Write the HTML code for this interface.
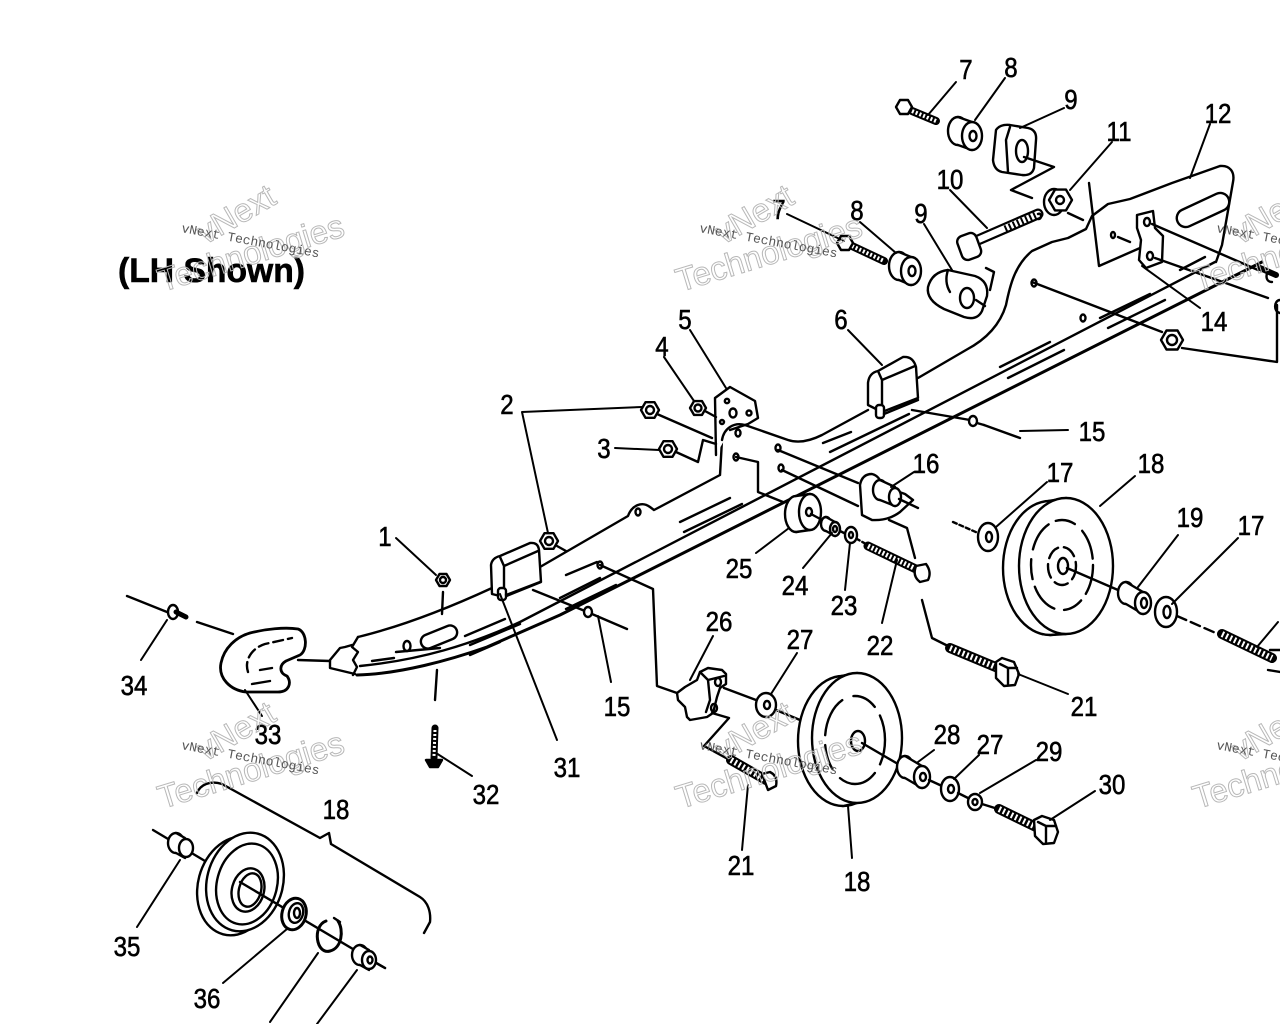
<!DOCTYPE html>
<html><head><meta charset="utf-8"><style>
html,body{margin:0;padding:0;background:#fff;}
svg{display:block;}
.n{font-family:"Liberation Sans",Arial,sans-serif;font-size:28px;fill:#000;stroke:#000;stroke-width:0.6;text-anchor:middle;}
.wm1{font-family:"Liberation Mono","Liberation Serif",monospace;font-size:13px;fill:#555;}
.wm2{font-family:"Liberation Sans",Arial,sans-serif;font-size:33px;fill:none;stroke:#b8b8b8;stroke-width:1;}
</style></head><body>
<svg width="1280" height="1024" viewBox="0 0 1280 1024" xmlns="http://www.w3.org/2000/svg">
<rect width="1280" height="1024" fill="#fff"/>
<g fill="none" stroke="#000" stroke-width="2.4" stroke-linecap="round" stroke-linejoin="round">

<!-- ===== MAIN RAIL ===== -->
<path d="M358,637 C395,628 440,612 492,588"/>
<path d="M540,567 L628,516 C632,505 642,501 650,507 L654,510 L720,475 L722,440 C724,428 734,422 745,425 L788,440 C800,444 812,440 822,435 L868,410"/>
<path d="M918,378 L966,350 C985,340 1000,325 1006,305 C1010,285 1015,265 1032,251 L1052,242 L1068,238 L1086,229 L1092,216 L1108,204 L1130,199 L1172,183 L1220,166 C1230,165 1235,172 1233,182 L1222,245 L1216,262"/>
<path d="M360,666 C420,660 470,645 520,622 L1215,262"/>
<path d="M357,675 C400,674 450,660 487,647 L560,615 L1262,262" stroke-width="3"/>
<path d="M358,637 L352,647 L358,652 L353,660 L357,667 L353,675"/>
<path d="M352,645 L345,647 L340,648 L330,660 L330,668 L355,674"/>
<rect x="420" y="630" width="38" height="14" rx="7" transform="rotate(-22 439 637)"/>
<ellipse cx="407" cy="646" rx="3.5" ry="5"/>
<path d="M396,652 L440,648"/>
<path d="M372,661 L394,658 M465,636 L505,619 M470,645 L520,624 M560,598 L600,578 M566,609 L616,585 M680,522 L730,498 M684,532 L742,504 M823,443 L851,432 M830,452 L909,414 M1000,367 L1050,342 M1008,378 L1064,350 M1100,318 L1150,294 M1108,328 L1165,300 M1180,270 L1205,257"/>
<path d="M566,575 L597,562 M470,655 L500,642"/>
<ellipse cx="638" cy="512" rx="2.5" ry="3.5"/>
<ellipse cx="738" cy="433" rx="2.5" ry="3.5"/>
<ellipse cx="736" cy="457" rx="2.5" ry="3.5"/>
<ellipse cx="778" cy="448" rx="2.5" ry="3.5"/>
<ellipse cx="781" cy="468" rx="2.5" ry="3.5"/>
<ellipse cx="600" cy="565" rx="2.5" ry="3.5"/>
<ellipse cx="1083" cy="318" rx="2.5" ry="3.5"/>
<ellipse cx="1034" cy="283" rx="2.5" ry="3.5"/>
<ellipse cx="1113" cy="235" rx="2" ry="3"/>

<rect x="1175" y="201" width="56" height="18" rx="9" transform="rotate(-25 1203 210)"/>
<path d="M1089,183 L1099,266 L1140,248"/>
<path d="M1118,237 L1130,242"/>
<path d="M1137,215 L1153,211 L1155,228 L1163,236 L1162,262 L1146,268 L1139,260 L1141,240 L1137,228 Z" fill="#fff"/>
<ellipse cx="1147" cy="222" rx="3" ry="4"/>
<ellipse cx="1150" cy="256" rx="3" ry="4"/>

<!-- block 31 -->
<path d="M492,594 L491,565 Q492,558 500,556 L530,543 Q538,542 539,550 L541,582 L504,597 Z" fill="#fff"/>
<path d="M500,557 L504,566 L504,596 M504,566 L538,551"/>
<rect x="498" y="588" width="8" height="12" rx="3" fill="#fff"/>
<path d="M506,595 L540,582"/>
<!-- block 6 -->
<path d="M868,405 L868,383 Q869,373 878,371 L903,357 Q913,356 916,367 L918,398 L882,412 Z" fill="#fff"/>
<path d="M878,371 L882,380 L882,410 M882,380 L915,366"/>
<rect x="876" y="405" width="8" height="13" rx="3" fill="#fff"/>
<path d="M884,414 L918,400"/>
<!-- part 5 -->
<path d="M716,455 L715,398 L730,387 L755,401 L758,418 L748,424 L730,430" fill="#fff"/>
<circle cx="727" cy="401" r="2.2"/><ellipse cx="733" cy="413" rx="3.5" ry="4.5"/><circle cx="749" cy="413" r="2.5"/><circle cx="722" cy="422" r="2"/>
<path d="M722,440 C724,428 734,422 745,425"/>

<!-- ===== UPPER PARTS ===== -->
<path d="M912,111 L936,121" stroke-width="8"/>
<path d="M912,111 L936,121" stroke="#fff" stroke-width="4" stroke-dasharray="2 2" stroke-linecap="butt"/>
<polygon points="912,107 908,114 900,114 896,107 900,100 908,100" fill="#fff"/>
<ellipse cx="958" cy="131" rx="10" ry="14" fill="#fff"/>
<polygon points="958,117 972,122 972,150 958,145" fill="#fff" stroke="none"/>
<path d="M958,117 L972,122 M958,145 L972,150"/>
<ellipse cx="972" cy="136" rx="10" ry="14" fill="#fff"/>
<ellipse cx="973" cy="136" rx="3.5" ry="5"/>
<path d="M996,130 Q1000,124 1010,125 L1028,128 Q1037,130 1036,140 L1034,168 Q1032,176 1022,175 L1002,172 Q994,170 993,160 Z" fill="#fff"/>
<path d="M1010,127 L1006,140 L1008,172"/>
<ellipse cx="1022" cy="151" rx="6" ry="11"/>
<path d="M1024,157 L1054,167 L1011,190 L1032,198"/>
<ellipse cx="1054" cy="202" rx="10" ry="13" fill="#fff"/>
<polygon points="1072,200 1066,210.4 1055,210.4 1049,200 1055,189.6 1066,189.6" fill="#fff"/>
<circle cx="1060" cy="200" r="4"/>
<path d="M1068,213 L1083,220"/>
<!-- bolt 10 -->
<path d="M978,240 L1038,214" stroke-width="11"/>
<path d="M978,240 L1038,214" stroke="#fff" stroke-width="6.5"/>
<path d="M1005,229 L1036,215" stroke-width="7" stroke-dasharray="2 2.5" stroke-linecap="butt"/>
<path d="M1038,214 C1042,212 1042,220 1038,219"/>
<rect x="959" y="234" width="20" height="25" rx="6" transform="rotate(-20 969 246)" fill="#fff"/>
<!-- bolt 7 lower -->
<path d="M852,246 L884,261" stroke-width="8"/>
<path d="M852,246 L884,261" stroke="#fff" stroke-width="4" stroke-dasharray="2 2" stroke-linecap="butt"/>
<polygon points="853,243 849,250 841,250 837,243 841,236 849,236" fill="#fff"/>
<ellipse cx="899" cy="266" rx="10" ry="14" fill="#fff"/>
<polygon points="899,252 911,257 911,285 899,280" fill="#fff" stroke="none"/>
<path d="M899,252 L911,257 M899,280 L911,285"/>
<ellipse cx="911" cy="271" rx="10" ry="14" fill="#fff"/>
<ellipse cx="912" cy="271" rx="3.5" ry="5"/>
<!-- block 9 lower -->
<path d="M928,287 Q932,272 948,270 L975,276 Q989,281 987,296 L982,311 Q977,321 964,317 L944,309 Q926,300 928,287 Z" fill="#fff"/>
<path d="M948,270 Q944,282 950,292"/>
<ellipse cx="967" cy="298" rx="7" ry="10"/>
<path d="M976,300 L985,306"/>
<path d="M986,268 L994,272 L990,290"/>

<!-- rear right -->
<path d="M1032,282 L1162,332"/>
<polygon points="1183,340 1177.5,349.5 1166.5,349.5 1161,340 1166.5,330.5 1177.5,330.5" fill="#fff"/>
<circle cx="1172" cy="340" r="5"/>
<path d="M1182,348 L1277,362 L1277,305"/>
<path d="M1152,224 L1258,270"/>
<path d="M1155,258 L1268,298"/>
<path d="M1260,268 L1276,275" stroke-width="6"/>
<path d="M1270,272 C1266,270 1264,282 1272,282"/>
<path d="M1280,300 C1274,300 1273,312 1280,313"/>

<!-- ===== NUTS ===== -->
<polygon points="659,410 654.5,417.8 645.5,417.8 641,410 645.5,402.2 654.5,402.2" fill="#fff"/><circle cx="650" cy="410" r="4"/>
<polygon points="706,408 702,414.9 694,414.9 690,408 694,401.1 702,401.1" fill="#fff"/><circle cx="698" cy="408" r="3.5"/>
<polygon points="677,449 672.5,456.8 663.5,456.8 659,449 663.5,441.2 672.5,441.2" fill="#fff"/><circle cx="668" cy="449" r="4"/>
<polygon points="558,541 553.5,548.8 544.5,548.8 540,541 544.5,533.2 553.5,533.2" fill="#fff"/><circle cx="549" cy="541" r="4"/>
<polygon points="450,580 446.5,586 439.5,586 436,580 439.5,574 446.5,574" fill="#fff"/><circle cx="443" cy="580" r="3"/>
<path d="M657,414 L712,438"/>
<path d="M676,452 L698,462 L703,440 L716,444"/>
<path d="M705,411 L716,417"/>
<path d="M557,546 L566,551"/>

<path d="M912,410 L970,420"/>
<ellipse cx="973" cy="421" rx="4" ry="5" fill="#fff"/>
<path d="M977,423 L984,425"/>
<path d="M984,425 L1020,438"/>

<!-- part 16 -->
<path d="M778,450 L858,483 M782,470 L858,506"/>
<path d="M862,515 L860,485 Q862,474 872,474 Q880,476 882,486 L905,494 L913,500 L900,512 Q888,521 872,520 Z" fill="#fff"/>
<ellipse cx="880" cy="490" rx="7" ry="10" fill="#fff"/>
<polygon points="880,480 895,487 895,506 880,500" fill="#fff" stroke="none"/>
<path d="M880,480 L895,487 M880,500 L895,506"/>
<ellipse cx="895" cy="497" rx="6" ry="9" fill="#fff"/>
<path d="M899,499 L918,508"/>
<path d="M889,520 L907,528 L915,558"/>

<path d="M736,457 L758,462 L758,492 L783,502"/>
<ellipse cx="796" cy="514" rx="11" ry="18" fill="#fff"/>
<polygon points="796,496 810,494 810,530 796,532" fill="#fff" stroke="none"/>
<path d="M796,496 L810,494 M796,532 L810,530"/>
<ellipse cx="810" cy="512" rx="11" ry="18" fill="#fff"/>
<ellipse cx="809" cy="512" rx="3" ry="4"/>
<path d="M811,514 L824,521"/>
<ellipse cx="826" cy="524" rx="5" ry="7" fill="#fff"/>
<polygon points="826,517 835,522 835,536 826,531" fill="#fff" stroke="none"/>
<path d="M826,517 L835,522 M826,531 L835,536"/>
<ellipse cx="835" cy="529" rx="5" ry="7" fill="#fff"/>
<ellipse cx="835" cy="529" rx="2" ry="3"/>
<path d="M840,531 L846,534"/>
<ellipse cx="851" cy="535" rx="6" ry="8" fill="#fff"/><ellipse cx="851" cy="535" rx="2" ry="3"/>
<path d="M857,539 L866,544" stroke-dasharray="3 3"/>
<path d="M868,546 L918,570" stroke-width="9"/>
<path d="M868,546 L918,570" stroke="#fff" stroke-width="5" stroke-dasharray="2 2" stroke-linecap="butt"/>
<path d="M916,566 Q912,576 920,582 L928,580 Q932,572 926,564 Z" fill="#fff"/>
<path d="M922,600 L932,638 L950,647"/>
<path d="M950,648 L998,668" stroke-width="10"/>
<path d="M950,648 L998,668" stroke="#fff" stroke-width="6" stroke-dasharray="2 2.5" stroke-linecap="butt"/>
<path d="M996,662 L1002,658 L1014,662 L1019,674 L1015,685 L1004,686 L996,678 Z" fill="#fff"/>
<path d="M1000,664 L1008,668 L1008,684 M1008,668 L1017,668"/>

<path d="M953,522 L978,533" stroke-dasharray="4 3"/>
<ellipse cx="988" cy="537" rx="10" ry="14" fill="#fff"/><ellipse cx="989" cy="537" rx="3" ry="5"/>
<ellipse cx="1050" cy="568" rx="47" ry="67" fill="#fff"/>
<polygon points="1050,501 1066,498 1066,634 1050,635" fill="#fff" stroke="none"/>
<path d="M1048,501 L1066,498 M1050,635 L1066,634"/>
<ellipse cx="1066" cy="566" rx="47" ry="68" fill="#fff"/>
<ellipse cx="1062" cy="565" rx="31" ry="45" stroke-dasharray="30 8 20 10"/>
<ellipse cx="1062" cy="566" rx="14" ry="19" stroke-dasharray="14 6"/>
<ellipse cx="1063" cy="566" rx="5" ry="8"/>
<path d="M1067,568 L1118,590"/>
<ellipse cx="1126" cy="593" rx="8" ry="11" fill="#fff"/>
<polygon points="1126,582 1143,592 1143,614 1126,604" fill="#fff" stroke="none"/>
<path d="M1126,582 L1143,592 M1126,604 L1143,614"/>
<ellipse cx="1143" cy="603" rx="8" ry="11" fill="#fff"/>
<ellipse cx="1144" cy="603" rx="3" ry="5"/>
<ellipse cx="1166" cy="612" rx="11" ry="15" fill="#fff"/><ellipse cx="1167" cy="612" rx="3.5" ry="6"/>
<path d="M1177,616 L1218,634" stroke-dasharray="10 5"/>
<path d="M1222,634 L1272,658" stroke-width="10"/>
<path d="M1222,634 L1272,658" stroke="#fff" stroke-width="6" stroke-dasharray="2 2.5" stroke-linecap="butt"/>
<path d="M1270,650 L1280,650 M1268,670 L1280,672"/>

<!-- ===== PART 26 ===== -->
<path d="M600,565 L653,589 L657,686 L677,693"/>
<path d="M677,693 L685,687 L697,680 L700,672 L708,668 L722,670 L726,674 L726,684 L720,688 L717,697 L713,713 L707,717 L690,720 L687,717 L685,707 L678,700 Z" fill="#fff"/>
<path d="M700,672 L708,680 L710,700 L706,712 M708,680 L724,676"/>
<ellipse cx="718" cy="682" rx="3" ry="4"/><ellipse cx="714" cy="708" rx="3" ry="4"/>
<path d="M724,688 L756,700"/>
<ellipse cx="766" cy="705" rx="10" ry="12" fill="#fff"/><ellipse cx="767" cy="705" rx="3" ry="4"/>
<path d="M776,710 L800,720"/>
<ellipse cx="843" cy="741" rx="45" ry="65" fill="#fff"/>
<polygon points="843,676 857,673 857,803 843,806" fill="#fff" stroke="none"/>
<path d="M841,676 L857,673 M843,806 L857,803"/>
<ellipse cx="857" cy="738" rx="45" ry="65" fill="#fff"/>
<ellipse cx="855" cy="740" rx="30" ry="44" stroke-dasharray="25 10 40 12"/>
<ellipse cx="858" cy="741" rx="7" ry="10"/>
<path d="M862,743 L898,764"/>
<ellipse cx="905" cy="767" rx="8" ry="11" fill="#fff"/>
<polygon points="905,756 922,766 922,788 905,778" fill="#fff" stroke="none"/>
<path d="M905,756 L922,766 M905,778 L922,788"/>
<ellipse cx="922" cy="777" rx="8" ry="11" fill="#fff"/>
<ellipse cx="923" cy="777" rx="3" ry="4"/>
<path d="M929,780 L942,786"/>
<ellipse cx="950" cy="789" rx="9" ry="12" fill="#fff"/><ellipse cx="951" cy="789" rx="3" ry="4"/>
<path d="M958,793 L968,798"/>
<ellipse cx="975" cy="802" rx="7" ry="8" fill="#fff"/><ellipse cx="975" cy="802" rx="2.5" ry="3"/>
<path d="M982,804 L998,809"/>
<path d="M999,809 L1036,827" stroke-width="10"/>
<path d="M999,809 L1036,827" stroke="#fff" stroke-width="6" stroke-dasharray="2 2.5" stroke-linecap="butt"/>
<path d="M1034,820 L1042,816 L1054,820 L1058,832 L1054,843 L1043,844 L1035,836 Z" fill="#fff"/>
<path d="M1038,822 L1046,826 L1046,842 M1046,826 L1056,826"/>
<path d="M712,713 L729,718 L704,746 L726,758"/>
<path d="M731,760 L766,780" stroke-width="10"/>
<path d="M731,760 L766,780" stroke="#fff" stroke-width="6" stroke-dasharray="2 2.5" stroke-linecap="butt"/>
<path d="M762,774 L770,772 Q778,776 776,786 L768,790 Z" fill="#fff"/>

<!-- ===== LEFT PARTS ===== -->
<path d="M443,592 L442,614"/>
<path d="M437,670 L435,700"/>
<path d="M435,728 L434,758" stroke-width="7"/>
<path d="M435,730 L434,756" stroke="#fff" stroke-width="3" stroke-dasharray="2 2" stroke-linecap="butt"/>
<path d="M426,760 L442,760 L438,767 L430,767 Z" fill="#000"/>
<path d="M533,590 L585,611"/>
<ellipse cx="588" cy="612" rx="4" ry="5" fill="#fff"/>
<path d="M592,614 L627,629"/>
<!-- part 33 C shape -->
<path d="M250,633 C265,629 285,627 298,629 C307,632 308,650 300,655 L286,661 C279,665 279,673 287,676 C292,683 289,692 278,692 L246,692 C230,690 218,678 221,663 C224,648 236,637 250,633 Z" fill="#fff" stroke-width="2.8"/>
<path d="M248,672 C244,660 252,648 265,644 L292,638" stroke-dasharray="10 5"/>
<path d="M252,684 L270,681 M260,670 L272,668"/>
<path d="M298,660 L330,661"/>
<path d="M197,622 L233,634"/>
<path d="M127,596 L167,612"/>
<ellipse cx="173" cy="612" rx="5" ry="7" fill="#fff"/>
<path d="M176,612 L186,617" stroke-width="5"/>

<!-- ===== BOTTOM LEFT ===== -->
<path d="M197,793 C200,785 210,780 222,784 L320,838 L329,833 L331,844 L420,897 C428,902 431,912 430,922 L424,933"/>
<path d="M153,830 L205,861"/>
<ellipse cx="176" cy="843" rx="8" ry="10" fill="#fff"/>
<polygon points="176,833 185,838 185,858 176,853" fill="#fff" stroke="none"/>
<path d="M176,833 L185,838 M176,853 L185,858"/>
<ellipse cx="186" cy="848" rx="7" ry="9" fill="#fff"/>
<ellipse cx="236" cy="886" rx="38" ry="50" transform="rotate(15 236 886)" fill="#fff"/>
<ellipse cx="245" cy="882" rx="38" ry="50" transform="rotate(15 245 882)" fill="#fff"/>
<ellipse cx="247" cy="884" rx="30" ry="41" transform="rotate(15 247 884)"/>
<ellipse cx="248" cy="890" rx="16" ry="22" transform="rotate(15 248 890)"/>
<ellipse cx="250" cy="890" rx="11" ry="17" transform="rotate(15 250 890)"/>
<path d="M240,882 L385,968"/>
<ellipse cx="294" cy="914" rx="12" ry="16" transform="rotate(15 294 914)" fill="#fff" stroke-width="3"/>
<ellipse cx="296" cy="913" rx="7" ry="10" transform="rotate(15 296 913)"/>
<ellipse cx="297" cy="913" rx="3" ry="5"/>
<path d="M326,921 C312,926 316,955 330,951 C342,948 344,930 338,921" stroke-width="3"/>
<path d="M334,918 L340,922"/>
<ellipse cx="360" cy="955" rx="8" ry="10" fill="#fff"/>
<polygon points="360,945 369,950 369,970 360,965" fill="#fff" stroke="none"/>
<path d="M360,945 L369,950 M360,965 L369,970"/>
<ellipse cx="369" cy="960" rx="7" ry="9" fill="#fff"/>
<ellipse cx="370" cy="960" rx="2.5" ry="3.5"/>
<path d="M376,963 L385,968"/>

<!-- ===== LEADERS ===== -->
<g stroke-width="2">
<path d="M956,82 L928,115"/>
<path d="M1005,78 L975,120"/>
<path d="M1064,108 L1020,128"/>
<path d="M1112,142 L1070,190"/>
<path d="M1210,124 L1190,178"/>
<path d="M950,190 L987,228"/>
<path d="M787,214 L844,241"/>
<path d="M860,222 L896,253"/>
<path d="M924,224 L952,270"/>
<path d="M1142,266 L1200,308"/>
<path d="M690,330 L726,388"/>
<path d="M848,330 L882,365"/>
<path d="M664,357 L694,401"/>
<path d="M642,407 L522,412 L548,533"/>
<path d="M615,448 L659,450"/>
<path d="M1020,431 L1068,430"/>
<path d="M914,472 L891,487"/>
<path d="M1047,482 L996,527"/>
<path d="M1135,476 L1100,506"/>
<path d="M1178,535 L1138,587"/>
<path d="M1238,538 L1172,604"/>
<path d="M1278,622 L1257,647"/>
<path d="M396,538 L436,575"/>
<path d="M756,553 L789,528"/>
<path d="M803,568 L832,533"/>
<path d="M845,590 L850,543"/>
<path d="M882,623 L897,560"/>
<path d="M713,636 L690,680"/>
<path d="M797,653 L771,694"/>
<path d="M141,660 L167,620"/>
<path d="M245,690 L262,716"/>
<path d="M598,616 L611,682"/>
<path d="M1018,674 L1068,694"/>
<path d="M500,594 L557,740"/>
<path d="M934,750 L918,762"/>
<path d="M979,755 L954,779"/>
<path d="M1036,760 L980,793"/>
<path d="M1095,791 L1050,820"/>
<path d="M436,753 L472,776"/>
<path d="M748,785 L742,850"/>
<path d="M848,806 L852,858"/>
<path d="M137,927 L180,860"/>
<path d="M223,983 L287,929"/>
<path d="M270,1022 L318,953"/>
<path d="M317,1024 L357,970"/>
</g>
</g>

<!-- ===== LABELS ===== -->
<text x="118" y="282" textLength="187" lengthAdjust="spacingAndGlyphs" style="font-family:'Liberation Sans',Arial,sans-serif;font-weight:bold;font-size:34px;fill:#000;stroke:#000;stroke-width:0.6;">(LH Shown)</text>
<g>
<text class="n" transform="translate(966,79) scale(.86,1)">7</text>
<text class="n" transform="translate(1011,77) scale(.86,1)">8</text>
<text class="n" transform="translate(1071,109) scale(.86,1)">9</text>
<text class="n" transform="translate(1119,141) scale(.86,1)">11</text>
<text class="n" transform="translate(1218,123) scale(.86,1)">12</text>
<text class="n" transform="translate(950,189) scale(.86,1)">10</text>
<text class="n" transform="translate(779,219) scale(.86,1)">7</text>
<text class="n" transform="translate(857,220) scale(.86,1)">8</text>
<text class="n" transform="translate(921,223) scale(.86,1)">9</text>
<text class="n" transform="translate(1214,331) scale(.86,1)">14</text>
<text class="n" transform="translate(685,329) scale(.86,1)">5</text>
<text class="n" transform="translate(841,329) scale(.86,1)">6</text>
<text class="n" transform="translate(662,356) scale(.86,1)">4</text>
<text class="n" transform="translate(507,414) scale(.86,1)">2</text>
<text class="n" transform="translate(604,458) scale(.86,1)">3</text>
<text class="n" transform="translate(1092,441) scale(.86,1)">15</text>
<text class="n" transform="translate(926,473) scale(.86,1)">16</text>
<text class="n" transform="translate(1060,482) scale(.86,1)">17</text>
<text class="n" transform="translate(1151,473) scale(.86,1)">18</text>
<text class="n" transform="translate(1190,527) scale(.86,1)">19</text>
<text class="n" transform="translate(1251,535) scale(.86,1)">17</text>
<text class="n" transform="translate(385,546) scale(.86,1)">1</text>
<text class="n" transform="translate(739,578) scale(.86,1)">25</text>
<text class="n" transform="translate(795,595) scale(.86,1)">24</text>
<text class="n" transform="translate(844,615) scale(.86,1)">23</text>
<text class="n" transform="translate(880,655) scale(.86,1)">22</text>
<text class="n" transform="translate(719,631) scale(.86,1)">26</text>
<text class="n" transform="translate(800,649) scale(.86,1)">27</text>
<text class="n" transform="translate(134,695) scale(.86,1)">34</text>
<text class="n" transform="translate(268,744) scale(.86,1)">33</text>
<text class="n" transform="translate(617,716) scale(.86,1)">15</text>
<text class="n" transform="translate(1084,716) scale(.86,1)">21</text>
<text class="n" transform="translate(567,777) scale(.86,1)">31</text>
<text class="n" transform="translate(947,744) scale(.86,1)">28</text>
<text class="n" transform="translate(990,754) scale(.86,1)">27</text>
<text class="n" transform="translate(1049,761) scale(.86,1)">29</text>
<text class="n" transform="translate(1112,794) scale(.86,1)">30</text>
<text class="n" transform="translate(486,804) scale(.86,1)">32</text>
<text class="n" transform="translate(741,875) scale(.86,1)">21</text>
<text class="n" transform="translate(857,891) scale(.86,1)">18</text>
<text class="n" transform="translate(336,819) scale(.86,1)">18</text>
<text class="n" transform="translate(127,956) scale(.86,1)">35</text>
<text class="n" transform="translate(207,1008) scale(.86,1)">36</text>
</g>

<!-- ===== WATERMARKS ===== -->
<g>
<text class="wm2" transform="translate(205,245) rotate(-30)">vNext</text>
<text class="wm2" transform="translate(162,292) rotate(-17)">Technologies</text>
<text class="wm1" transform="translate(181,232) rotate(10.5)" textLength="140" lengthAdjust="spacingAndGlyphs">vNext Technologies</text>

<text class="wm2" transform="translate(723,245) rotate(-30)">vNext</text>
<text class="wm2" transform="translate(680,292) rotate(-17)">Technologies</text>
<text class="wm1" transform="translate(699,232) rotate(10.5)" textLength="140" lengthAdjust="spacingAndGlyphs">vNext Technologies</text>

<text class="wm2" transform="translate(1240,245) rotate(-30)">vNext</text>
<text class="wm2" transform="translate(1197,292) rotate(-17)">Technologies</text>
<text class="wm1" transform="translate(1216,232) rotate(10.5)" textLength="140" lengthAdjust="spacingAndGlyphs">vNext Technologies</text>

<text class="wm2" transform="translate(205,762) rotate(-30)">vNext</text>
<text class="wm2" transform="translate(162,809) rotate(-17)">Technologies</text>
<text class="wm1" transform="translate(181,749) rotate(10.5)" textLength="140" lengthAdjust="spacingAndGlyphs">vNext Technologies</text>

<text class="wm2" transform="translate(723,762) rotate(-30)">vNext</text>
<text class="wm2" transform="translate(680,809) rotate(-17)">Technologies</text>
<text class="wm1" transform="translate(699,749) rotate(10.5)" textLength="140" lengthAdjust="spacingAndGlyphs">vNext Technologies</text>

<text class="wm2" transform="translate(1240,762) rotate(-30)">vNext</text>
<text class="wm2" transform="translate(1197,809) rotate(-17)">Technologies</text>
<text class="wm1" transform="translate(1216,749) rotate(10.5)" textLength="140" lengthAdjust="spacingAndGlyphs">vNext Technologies</text>
</g>
</svg>
</body></html>
